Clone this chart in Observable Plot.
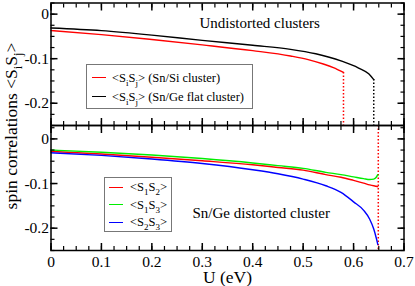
<!DOCTYPE html>
<html><head><meta charset="utf-8">
<script src="https://cdn.jsdelivr.net/npm/d3@7"></script>
<script src="https://cdn.jsdelivr.net/npm/@observablehq/plot@0.6"></script>
<style>
body{margin:0;background:#fff;}
#wrap{position:relative;width:415px;height:286px;font-family:"Liberation Serif","Times New Roman",serif;overflow:hidden;background:#fff;}
#wrap svg{position:absolute;left:0;top:0;background:transparent !important;overflow:visible;}
#wrap svg, #wrap svg text, #wrap svg g{font-family:"Liberation Serif","Times New Roman",serif !important;font-weight:normal;}
.legend{position:absolute;border:1px solid #777;background:#fff;box-sizing:border-box;font-size:12.5px;color:#000;}
.row{position:absolute;left:0;white-space:nowrap;height:18px;line-height:18px;}
.sw{position:absolute;height:0;border-top:1.5px solid;}
.lbl{position:absolute;top:0;}
sub{font-size:0.72em;vertical-align:-0.4em;line-height:0;}
#ylab{position:absolute;white-space:nowrap;font-size:17.5px;transform:translate(-50%,-50%) rotate(-90deg);}
</style></head><body><div id="wrap"></div>
<script>
// ---------- data ----------
// top panel: undistorted clusters
const U_SnSi = [0, 0.1, 0.2, 0.3, 0.4, 0.475, 0.51, 0.54, 0.56, 0.58];
const S_SnSi = [-0.037, -0.046, -0.057, -0.069, -0.082, -0.094, -0.102, -0.112, -0.120, -0.131];
const U_SnGeFlat = [0, 0.1, 0.2, 0.3, 0.4, 0.475, 0.525, 0.575, 0.61, 0.63, 0.64];
const S_SnGeFlat = [-0.031, -0.037, -0.047, -0.059, -0.070, -0.079, -0.089, -0.105, -0.121, -0.134, -0.147];
// bottom panel: Sn/Ge distorted cluster
const U_dist = [0, 0.1, 0.2, 0.3, 0.4, 0.45, 0.5, 0.545, 0.575, 0.6, 0.62, 0.632, 0.64, 0.645, 0.648];
const S12 = [-0.028, -0.034, -0.041, -0.049, -0.058, -0.064, -0.070, -0.080, -0.086, -0.093, -0.099, -0.103, -0.105, -0.106, -0.107];
const S13 = [-0.025, -0.030, -0.036, -0.044, -0.054, -0.060, -0.066, -0.075, -0.080, -0.085, -0.089, -0.091, -0.090, -0.086, -0.080];
const S23 = [-0.031, -0.037, -0.045, -0.055, -0.069, -0.078, -0.090, -0.105, -0.120, -0.141, -0.160, -0.180, -0.202, -0.222, -0.236];
const U_transitionDistorted = [0.649];
// axes
const xDomain = [0, 0.7];
const yDomainTop = [-0.25, 0.025];
const yDomainBottom = [-0.25, 0.03];
const xMajor = [0, 0.1, 0.2, 0.3, 0.4, 0.5, 0.6, 0.7];
const xTickLabels = ["0", "0.1", "0.2", "0.3", "0.4", "0.5", "0.6", "0.7"];
const yMajor = [0, -0.1, -0.2];
const yTickLabels = ["0", "-0.1", "-0.2"];
const minorStep = 0.025;
const xLabel = "U (eV)";
const topNote = "Undistorted clusters";
const bottomNote = "Sn/Ge distorted cluster";
const colors = {snsi: "#ff0000", snge: "#000000", s12: "#ff0000", s13: "#00ee00", s23: "#0000ff"};

// ---------- helpers ----------
const FONT = "Liberation Serif";
const toPts = (us, ss) => us.map((u, i) => ({u, s: ss[i]}));
const xMinor = d3.range(xDomain[0], xDomain[1] + 1e-9, minorStep);
const yMinor = (dom) => d3.range(dom[0], dom[1] + 1e-9, minorStep);
const fmt = (vals, labels) => d => labels[vals.findIndex(v => Math.abs(v - d) < 1e-9)];

function frameMarks(yDom, xLabels) {
  const common = {strokeWidth: 1.5, label: null};
  return [
    Plot.axisY(yMajor, {...common, anchor: "left", tickSize: -7, tickPadding: 9, tickFormat: fmt(yMajor, yTickLabels), fontSize: 15.5, fontFamily: FONT}),
    Plot.axisY(yMajor, {...common, anchor: "right", tickSize: -7, fill: "none"}),
    Plot.axisY(yMinor(yDom), {...common, strokeWidth: 1.2, anchor: "left", tickSize: -4, fill: "none"}),
    Plot.axisY(yMinor(yDom), {...common, strokeWidth: 1.2, anchor: "right", tickSize: -4, fill: "none"}),
    Plot.axisX(xMajor, {...common, anchor: "top", tickSize: -7, fill: "none"}),
    Plot.axisX(xMinor, {...common, strokeWidth: 1.2, anchor: "top", tickSize: -4, fill: "none"}),
    xLabels
      ? Plot.axisX(xMajor, {...common, anchor: "bottom", tickSize: -7, tickPadding: 12, tickFormat: fmt(xMajor, xTickLabels), fontSize: 15.5, fontFamily: FONT})
      : Plot.axisX(xMajor, {...common, anchor: "bottom", tickSize: -7, fill: "none"}),
    Plot.axisX(xMinor, {...common, strokeWidth: 1.2, anchor: "bottom", tickSize: -4, fill: "none"}),
    Plot.frame({stroke: "black", strokeWidth: 1.5})
  ];
}

const base = {
  width: 415, height: 286,
  marginLeft: 50.5, marginRight: 11.5,
  style: "font-family: 'Liberation Serif', serif; font-size: 15.5px; background: transparent; overflow: visible;"
};
const lw = 1.4;

// ---------- top panel ----------
const snsi = toPts(U_SnSi, S_SnSi);
const snge = toPts(U_SnGeFlat, S_SnGeFlat);
const topPlot = Plot.plot({
  ...base,
  marginTop: 2.5, marginBottom: 161,
  x: {domain: xDomain},
  y: {domain: yDomainTop},
  marks: [
    Plot.ruleX([snsi[snsi.length - 1]], {x: "u", y1: "s", y2: () => yDomainTop[0], stroke: colors.snsi, strokeWidth: 1.5, strokeDasharray: "1.5,2"}),
    Plot.ruleX([snge[snge.length - 1]], {x: "u", y1: "s", y2: () => yDomainTop[0], stroke: colors.snge, strokeWidth: 1.5, strokeDasharray: "1.5,2"}),
    Plot.line(snsi, {x: "u", y: "s", stroke: colors.snsi, strokeWidth: lw, curve: "monotone-x"}),
    Plot.line(snge, {x: "u", y: "s", stroke: colors.snge, strokeWidth: lw, curve: "monotone-x"}),
    Plot.text([topNote], {frameAnchor: "top-left", textAnchor: "start", lineAnchor: "middle", dx: 148.5, dy: 20.5, fontSize: 15, fontFamily: FONT}),
    ...frameMarks(yDomainTop, false)
  ]
});

// ---------- bottom panel ----------
const p12 = toPts(U_dist, S12), p13 = toPts(U_dist, S13), p23 = toPts(U_dist, S23);
const bottomPlot = Plot.plot({
  ...base,
  marginTop: 125, marginBottom: 36,
  x: {domain: xDomain},
  y: {domain: yDomainBottom},
  marks: [
    Plot.ruleX(U_transitionDistorted, {stroke: colors.s12, strokeWidth: 1.5, strokeDasharray: "1.5,2"}),
    Plot.line(p12, {x: "u", y: "s", stroke: colors.s12, strokeWidth: lw, curve: "monotone-x"}),
    Plot.line(p13, {x: "u", y: "s", stroke: colors.s13, strokeWidth: lw, curve: "monotone-x"}),
    Plot.line(p23, {x: "u", y: "s", stroke: colors.s23, strokeWidth: lw, curve: "monotone-x"}),
    Plot.text([bottomNote], {frameAnchor: "top-left", textAnchor: "start", lineAnchor: "middle", dx: 141.5, dy: 88, fontSize: 15, fontFamily: FONT}),
    Plot.text([xLabel], {frameAnchor: "bottom", lineAnchor: "middle", dy: 26.5, fontSize: 17.5, fontFamily: FONT}),
    ...frameMarks(yDomainBottom, true)
  ]
});

const wrap = document.getElementById("wrap");
wrap.appendChild(topPlot);
wrap.appendChild(bottomPlot);

// ---------- legends (HTML, inside the panels) ----------
function legend(box, entries) {
  const div = document.createElement("div");
  div.className = "legend";
  Object.assign(div.style, {left: box.left + "px", top: box.top + "px", width: box.width + "px", height: box.height + "px"});
  entries.forEach((e, i) => {
    const row = document.createElement("div");
    row.className = "row";
    row.style.top = (box.firstRow + i * box.step - 9) + "px";
    row.style.width = "100%";
    const sw = document.createElement("span");
    sw.className = "sw";
    Object.assign(sw.style, {left: box.swLeft + "px", width: box.swWidth + "px", top: "8.5px", borderTopColor: e.color});
    const lb = document.createElement("span");
    lb.className = "lbl";
    lb.style.left = box.textLeft + "px";
    lb.innerHTML = e.label;
    row.appendChild(sw); row.appendChild(lb);
    div.appendChild(row);
  });
  wrap.appendChild(div);
}
legend({left: 86, top: 64, width: 167, height: 45, firstRow: 12.5, step: 19, swLeft: 5, swWidth: 14, textLeft: 25}, [
  {color: colors.snsi, label: "&lt;S<sub>i</sub>S<sub>j</sub>&gt; (Sn/Si cluster)"},
  {color: colors.snge, label: "&lt;S<sub>i</sub>S<sub>j</sub>&gt; (Sn/Ge flat cluster)"}
]);
legend({left: 104, top: 177, width: 68, height: 55, firstRow: 9, step: 17.5, swLeft: 4, swWidth: 14, textLeft: 25}, [
  {color: colors.s12, label: "&lt;S<sub>1</sub>S<sub>2</sub>&gt;"},
  {color: colors.s13, label: "&lt;S<sub>1</sub>S<sub>3</sub>&gt;"},
  {color: colors.s23, label: "&lt;S<sub>2</sub>S<sub>3</sub>&gt;"}
]);

// ---------- y axis title ----------
const yl = document.createElement("div");
yl.id = "ylab";
yl.style.left = "11px";
yl.style.top = "126px";
yl.innerHTML = "spin correlations &lt;S<sub>i</sub>S<sub>j</sub>&gt;";
wrap.appendChild(yl);
</script></body></html>
